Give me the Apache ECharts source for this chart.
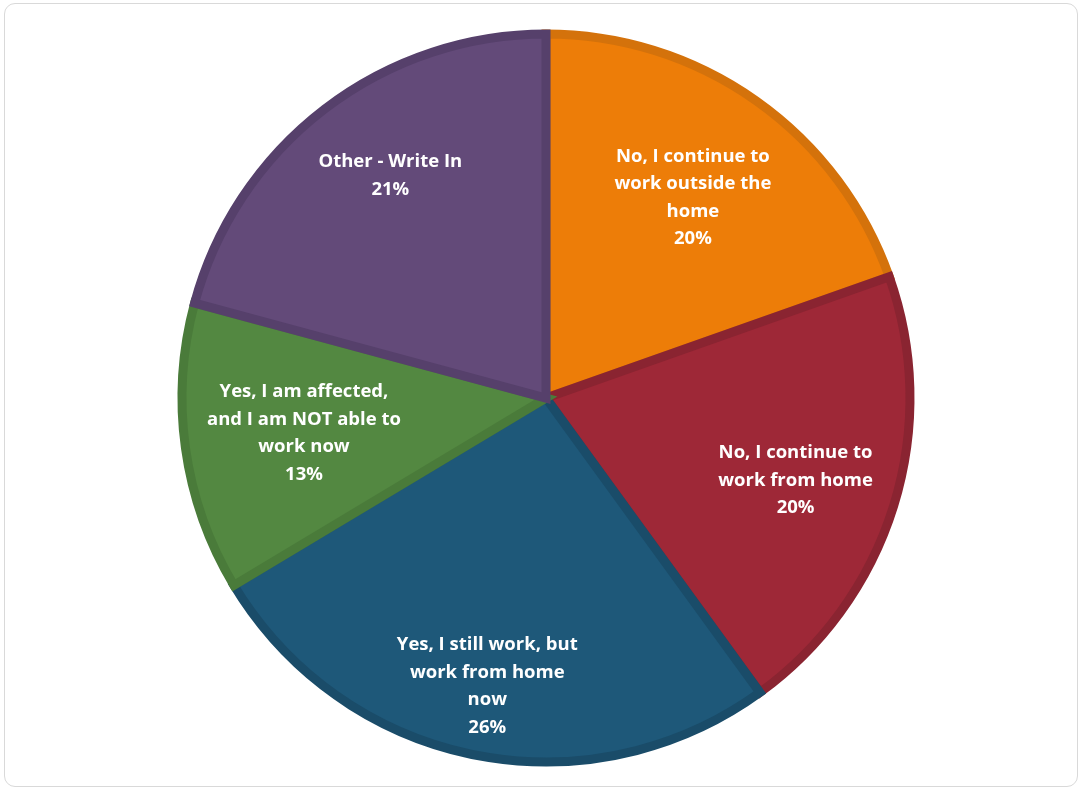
<!DOCTYPE html>
<html>
<head>
<meta charset="utf-8">
<script src="https://cdn.jsdelivr.net/npm/echarts@6/dist/echarts.min.js"></script>
<style>
html,body{margin:0;padding:0;background:#fff;}
#card{position:absolute;left:4px;top:3px;width:1072px;height:782px;border:1.5px solid #d9d9d9;border-radius:11px;}
#chart{position:absolute;left:0;top:0;width:1079px;height:789px;}
</style>
</head>
<body>
<div id="card"></div>
<div id="chart"></div>
<script>
const categories = [
  "No, I continue to\nwork outside the\nhome",
  "No, I continue to\nwork from home",
  "Yes, I still work, but\nwork from home\nnow",
  "Yes, I am affected,\nand I am NOT able to\nwork now",
  "Other - Write In"
];
const values = [19.6, 20.4, 26.4, 12.8, 20.8];
const fillColors = ["#ED7D08", "#9E2837", "#1E5879", "#538841", "#634A79"];
const borderColors = ["#D4720B", "#8A2431", "#1A4C69", "#4A7B3A", "#56406B"];
const labelRatios = [0.682, 0.722, 0.808, 0.672, 0.745];
const labelAngleShift = [1.0, 1.0, 0.0, -0.4, 2.4];

const cx = 546, cy = 398, R = 364;
const total = values.reduce((a, b) => a + b, 0);
const mids = [];
let acc = 0;
values.forEach(v => { mids.push((acc + v / 2) / total * 2 * Math.PI); acc += v; });

const chart = echarts.init(document.getElementById('chart'), null, {renderer: 'canvas'});
chart.setOption({
  animation: false,
  series: [{
    type: 'pie',
    center: [cx, cy],
    radius: [0, R],
    startAngle: 90,
    clockwise: true,
    data: categories.map((c, i) => ({
      name: c,
      value: values[i],
      itemStyle: {color: fillColors[i], borderColor: borderColors[i], borderWidth: 9, borderJoin: 'miter'}
    })),
    label: {
      show: true,
      position: 'inside',
      color: '#fff',
      fontFamily: '"Open Sans", Lato, sans-serif',
      fontWeight: 'bold',
      fontSize: 18.5,
      lineHeight: 27.5,
      align: 'center',
      verticalAlign: 'middle',
      formatter: p => p.name + '\n' + Math.round(p.percent) + '%'
    },
    labelLayout: function (p) {
      const i = p.dataIndex;
      const a = mids[i] + labelAngleShift[i] * Math.PI / 180;
      const r = R * labelRatios[i];
      return {x: cx + r * Math.sin(a), y: cy - r * Math.cos(a)};
    },
    emphasis: {disabled: true}
  }]
});
</script>
</body>
</html>
